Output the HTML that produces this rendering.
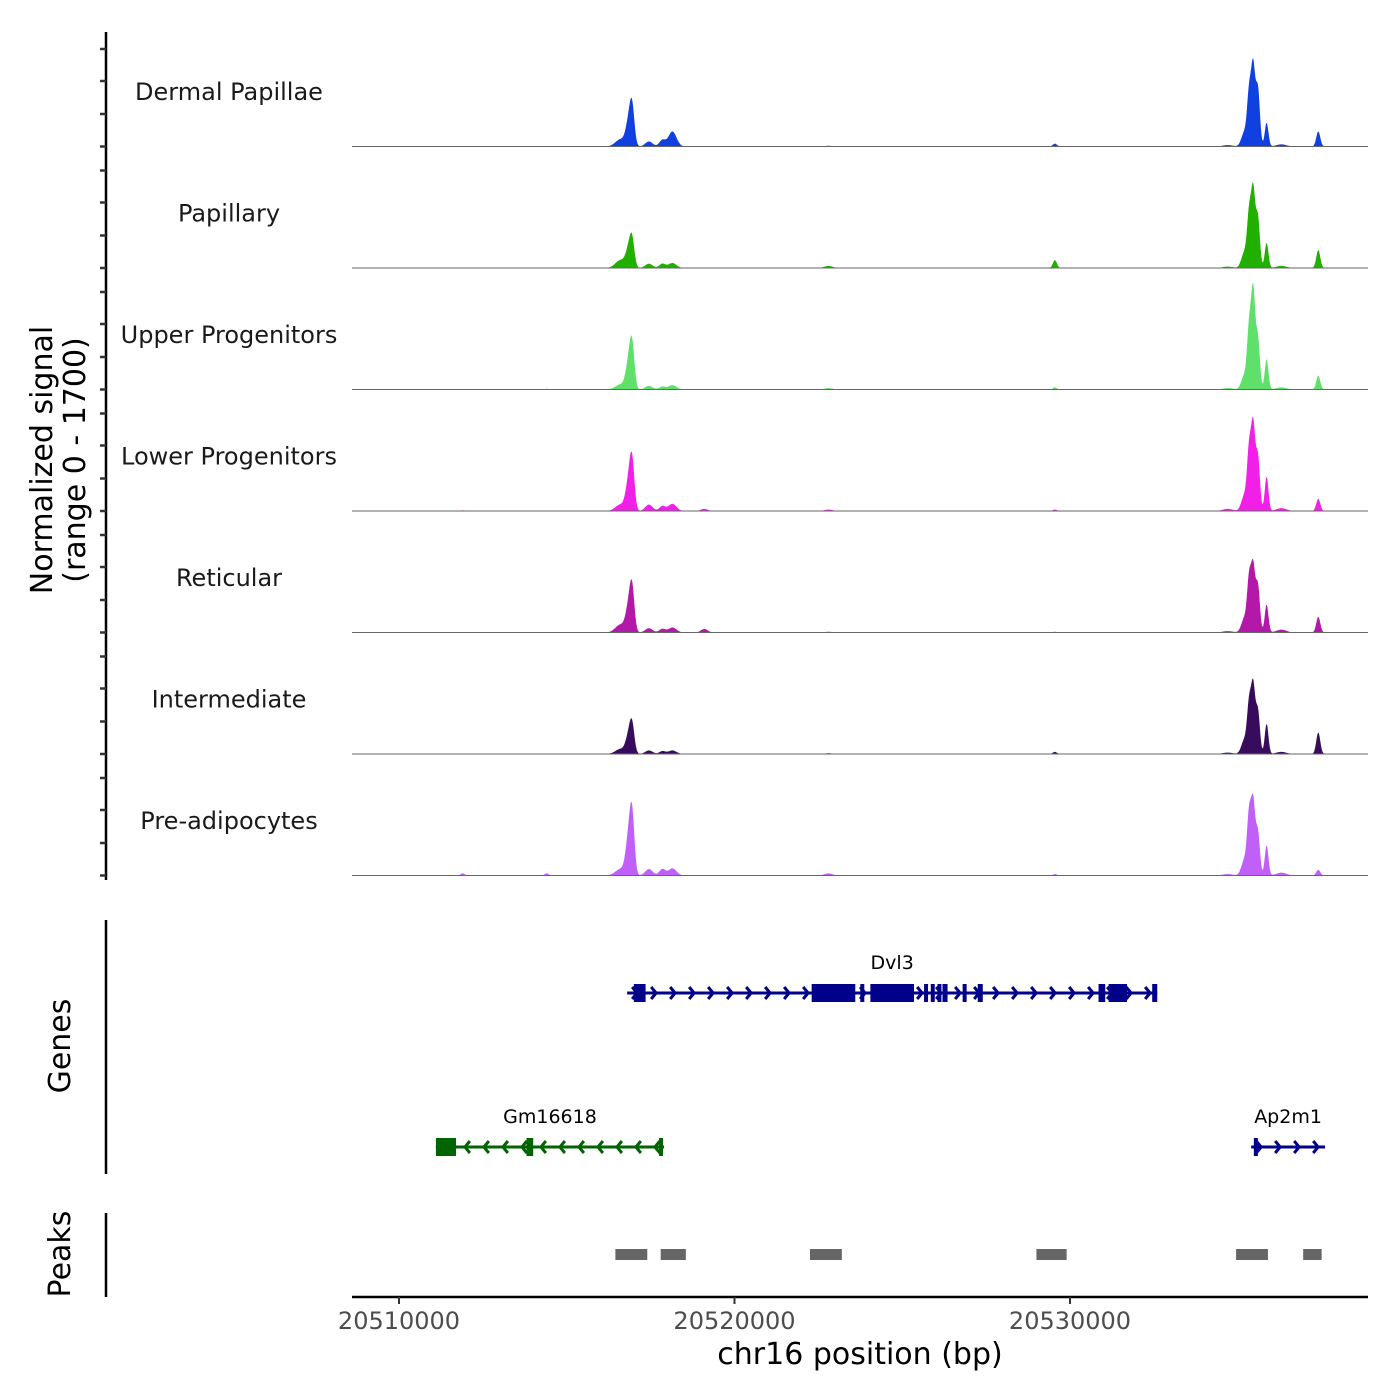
<!DOCTYPE html>
<html><head><meta charset="utf-8"><style>
html,body{margin:0;padding:0;background:#fff;}
svg{display:block;font-family:"DejaVu Sans","Liberation Sans",sans-serif;}
</style></head><body>
<svg id="chart" width="1400" height="1400" viewBox="0 0 1400 1400"></svg>
<script>
// ---- data ----
const trackNames = ["Dermal Papillae","Papillary","Upper Progenitors","Lower Progenitors","Reticular","Intermediate","Pre-adipocytes"];
const trackColors = ["#1040e0","#22b000","#5ee06a","#f020e8","#b418a8","#380c5c","#c060f8"];
// peak centers (bp) and widths (bp)
const peakCenters = [20516600,20516850,20516950,20517450,20517850,20518150,20522800,20529550,20535200,20535340,20535460,20535600,20535860,20537400,20519100,20511900,20514400,20534700,20536300];
const peakWidths  = [150,90,70,110,90,120,120,60,90,60,60,60,55,60,100,60,60,150,150];
// heights in signal units (range 0 - 1700) per track, per peak center
const trackHeights = [
 [100,330,470,70,90,210,10,40,200,700,1080,800,330,210,0,0,0,20,30],
 [110,250,330,60,60,70,30,110,220,700,1050,700,350,250,0,0,0,20,30],
 [70,370,520,50,40,60,20,30,200,800,1330,700,420,190,0,0,10,20,30],
 [90,400,580,90,70,100,20,20,220,800,1150,750,480,170,30,10,0,30,40],
 [110,350,520,60,50,70,10,10,200,700,880,650,390,220,50,0,0,20,40],
 [70,250,340,50,40,50,10,30,200,650,920,600,420,300,0,0,0,20,30],
 [90,520,700,90,90,100,30,20,220,800,980,600,420,80,0,30,30,20,40]
];
const xTicks = [20510000,20520000,20530000];
const genes = [
 {name:"Dvl3",start:20516800,end:20532600,strand:1,color:"#00008b",row:0,
  exons:[[20517000,20517350],[20522300,20523600],[20523750,20523850],[20524050,20525350],[20525650,20525750],[20525850,20525950],[20526050,20526150],[20526200,20526350],[20526800,20526900],[20527250,20527400],[20530850,20531050],[20531150,20531700],[20532450,20532600]]},
 {name:"Gm16618",start:20511100,end:20517900,strand:-1,color:"#006400",row:1,
  exons:[[20511100,20511700],[20513800,20514000],[20517750,20517850]]},
 {name:"Ap2m1",start:20535400,end:20537600,strand:1,color:"#00008b",row:1,
  exons:[[20535480,20535580]]}
];
const peakStarts = [20516450,20517800,20522250,20529000,20534950,20536950];
const peakEnds   = [20517400,20518550,20523200,20529900,20535900,20537500];

// ---- scales ----
const X0=352,X1=1368;
const bpPerPx = 1000/33.55;
function xs(bp){return 399+(bp-20510000)/1000*33.55;}
function bpAt(px){return 20510000+(px-399)*bpPerPx;}
const trackTop=25, trackH=121.5;
function ys(v,i){return trackTop+trackH*(i+1)-v/1700*trackH;}

const svg=document.getElementById('chart');
const NS="http://www.w3.org/2000/svg";
function mk(tag,attrs,parent){const e=document.createElementNS(NS,tag);for(const k in attrs)e.setAttribute(k,attrs[k]);(parent||svg).appendChild(e);return e;}

// y axis line & ticks
const ax=mk('line',{x1:106,y1:32,x2:106,y2:880,stroke:'#000','stroke-width':2.5});


for(let i=0;i<7;i++){
 [24,56,89,121.5].forEach(o=>{
  const y=trackTop+trackH*i+o;
  const t=mk('line',{x1:100,y1:y,x2:106,y2:y,stroke:'#333','stroke-width':2.5});
  
  
 });
}
const yt=mk('text',{x:0,y:0,transform:'translate(52,460) rotate(-90)','text-anchor':'middle','font-size':30,fill:'#000'});


const ts1=mk('tspan',{x:0,dy:0},yt);ts1.textContent='Normalized signal';
const ts2=mk('tspan',{x:0,dy:33},yt);ts2.textContent='(range 0 - 1700)';

// tracks
trackNames.forEach((name,i)=>{
 const g=mk('g',{});
 
 
 const lbl=mk('text',{x:229,y:ys(1700,i)+75,'text-anchor':'middle','font-size':24,fill:'#1a1a1a'},g);
 lbl.textContent=name;
 
 
 let d='M'+X0+','+ys(0,i);
 for(let px=X0;px<=X1;px+=0.5){
  const bp=bpAt(px);let v=0;
  for(let k=0;k<peakCenters.length;k++){
   const z=(bp-peakCenters[k])/peakWidths[k];
   v+=trackHeights[i][k]*Math.exp(-0.5*z*z);
  }
  v=Math.min(v,1700);
  d+=' L'+px+','+ys(v,i).toFixed(2);
 }
 d+=' L'+X1+','+ys(0,i)+' Z';
 const p=mk('path',{d:d,fill:trackColors[i],stroke:'none'},g);
 
 
 const b=mk('line',{x1:X0,y1:ys(0,i),x2:X1,y2:ys(0,i),stroke:'#666','stroke-width':1},g);
 
 
});

// genes panel
const gl=mk('line',{x1:106,y1:920,x2:106,y2:1174,stroke:'#000','stroke-width':2.5});


const gt=mk('text',{x:0,y:0,transform:'translate(70,1046) rotate(-90)','text-anchor':'middle','font-size':30});
gt.textContent='Genes';


const rowY=[993,1147];
genes.forEach(gn=>{
 const g=mk('g',{});
 
 
 const y=rowY[gn.row],x1=xs(gn.start),x2=xs(gn.end);
 mk('line',{x1:x1,y1:y,x2:x2,y2:y,stroke:gn.color,'stroke-width':3},g);
 for(let x=x1+10;x<x2-4;x+=19){
  const s=gn.strand*5;
  mk('polyline',{points:`${x-s},${y-6} ${x},${y} ${x-s},${y+6}`,fill:'none',stroke:gn.color,'stroke-width':3},g);
 }
 gn.exons.forEach(e=>{
  const ex=mk('rect',{x:xs(e[0]),y:y-9,width:Math.max(4,xs(e[1])-xs(e[0])),height:18,fill:gn.color},g);
  
  
 });
 const t=mk('text',{x:(x1+x2)/2,y:y-24,'text-anchor':'middle','font-size':19,fill:'#000'},g);
 t.textContent=gn.name;
});

// peaks panel
const pl=mk('line',{x1:106,y1:1213,x2:106,y2:1297,stroke:'#000','stroke-width':2.5});


const pt=mk('text',{x:0,y:0,transform:'translate(70,1254) rotate(-90)','text-anchor':'middle','font-size':30});
pt.textContent='Peaks';


peakStarts.forEach((s,i)=>{
 const r=mk('rect',{x:xs(s),y:1249,width:xs(peakEnds[i])-xs(s),height:11,fill:'#666'});
 
 
});

// x axis
const xl=mk('line',{x1:X0,y1:1297,x2:X1,y2:1297,stroke:'#000','stroke-width':2.5});


xTicks.forEach(v=>{
 const t=mk('line',{x1:xs(v),y1:1297,x2:xs(v),y2:1304,stroke:'#333','stroke-width':2});
 
 
 const l=mk('text',{x:xs(v),y:1329,'text-anchor':'middle','font-size':24,fill:'#4d4d4d'});
 l.textContent=String(v);
 
 
});
const xt=mk('text',{x:860,y:1364,'text-anchor':'middle','font-size':30,fill:'#000'});
xt.textContent='chr16 position (bp)';


</script>
</body></html>
